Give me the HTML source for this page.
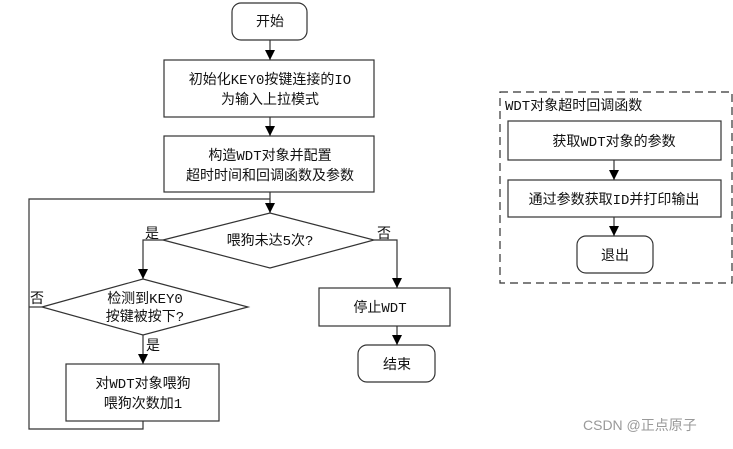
<!DOCTYPE html>
<html><head><meta charset="utf-8"><style>
html,body{margin:0;padding:0;background:#fff;}
svg text{font-family:"Liberation Mono","Noto Sans CJK SC",monospace;font-size:14px;fill:#111;}
</style></head><body>
<svg width="733" height="444" viewBox="0 0 733 444" xmlns="http://www.w3.org/2000/svg">
<defs><marker id="a" markerWidth="10" markerHeight="10" refX="5" refY="9" orient="auto" markerUnits="userSpaceOnUse"><path d="M0,0 L10,0 L5,10 z" fill="#000" transform="rotate(-90 5 5)"/></marker>
<marker id="d" viewBox="0 0 10 10" markerWidth="10" markerHeight="10" refX="10" refY="5" orient="auto" markerUnits="userSpaceOnUse"><path d="M0,0 L10,5 L0,10 z" fill="#000"/></marker></defs>
<g stroke="#333" stroke-width="1.2" fill="#fff">
<rect x="232" y="3" width="75" height="37" rx="9"/>
<rect x="164" y="60" width="210" height="57"/>
<rect x="164" y="136" width="210" height="56"/>
<polygon points="163,240 270,213 374,240 270,268"/>
<polygon points="42,307 143,279 248,307 143,335"/>
<rect x="66" y="364" width="153" height="57"/>
<rect x="319" y="288" width="131" height="38"/>
<rect x="358" y="345" width="77" height="37" rx="9"/>
<rect x="508" y="121" width="213" height="39"/>
<rect x="508" y="180" width="213" height="37"/>
<rect x="577" y="236" width="76" height="37" rx="9"/>
</g>
<g stroke="#333" stroke-width="1.2" fill="none">
<rect x="500" y="92" width="232" height="191" stroke-dasharray="8,5"/>
<line x1="270" y1="40" x2="270" y2="60" marker-end="url(#d)"/>
<line x1="270" y1="117" x2="270" y2="136" marker-end="url(#d)"/>
<line x1="270" y1="192" x2="270" y2="213" marker-end="url(#d)"/>
<polyline points="163,240 143,240 143,279" marker-end="url(#d)"/>
<polyline points="374,240 397,240 397,288" marker-end="url(#d)"/>
<line x1="397" y1="326" x2="397" y2="345" marker-end="url(#d)"/>
<line x1="143" y1="335" x2="143" y2="364" marker-end="url(#d)"/>
<polyline points="143,421 143,429 29,429 29,199 270,199"/>
<line x1="29" y1="307" x2="42" y2="307"/>
<line x1="614" y1="160" x2="614" y2="180" marker-end="url(#d)"/>
<line x1="614" y1="217" x2="614" y2="236" marker-end="url(#d)"/>
</g>
<g text-anchor="middle">
<text x="270" y="26">开始</text>
<text x="270" y="84">初始化KEY0按键连接的IO</text>
<text x="270" y="104">为输入上拉模式</text>
<text x="270" y="160">构造WDT对象并配置</text>
<text x="270" y="180">超时时间和回调函数及参数</text>
<text x="270" y="245">喂狗未达5次?</text>
<text x="145" y="303">检测到KEY0</text>
<text x="145" y="321">按键被按下?</text>
<text x="143" y="388">对WDT对象喂狗</text>
<text x="143" y="408">喂狗次数加1</text>
<text x="380" y="312">停止WDT</text>
<text x="397" y="369">结束</text>
<text x="614" y="146">获取WDT对象的参数</text>
<text x="614" y="204">通过参数获取ID并打印输出</text>
<text x="615" y="260">退出</text>
</g>
<text x="145" y="238">是</text>
<text x="377" y="238">否</text>
<text x="30" y="303">否</text>
<text x="146" y="350">是</text>
<text x="505" y="110">WDT对象超时回调函数</text>
<text x="583" y="430" style="fill:#999;font-family:'Liberation Sans','Noto Sans CJK SC',sans-serif;font-size:14px">CSDN @正点原子</text>
</svg>
</body></html>
